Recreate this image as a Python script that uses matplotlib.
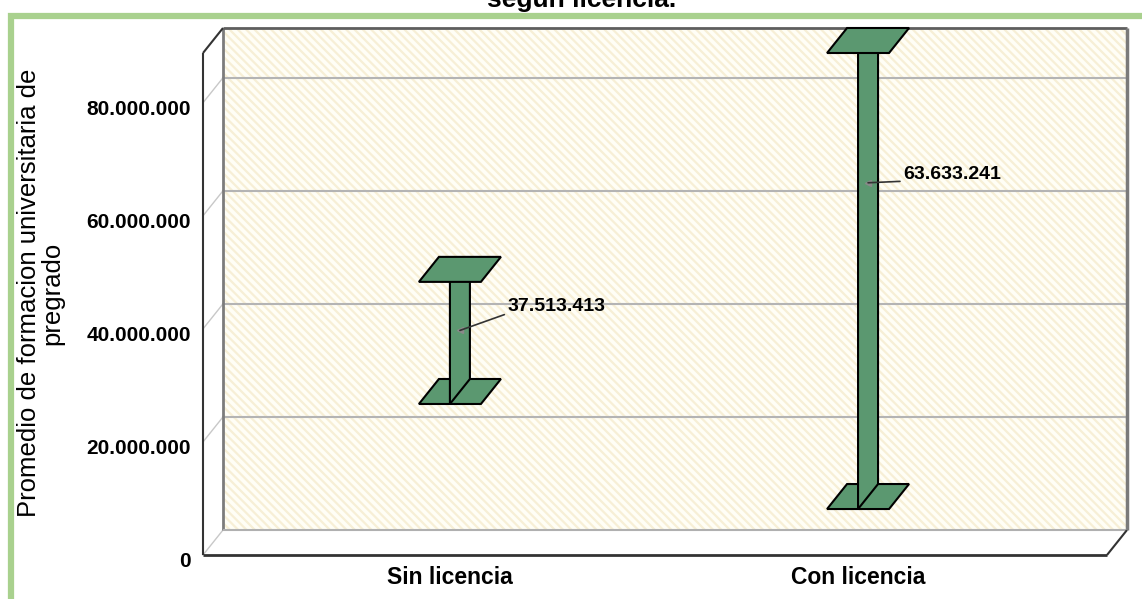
import matplotlib
matplotlib.use('Agg')
import matplotlib.pyplot as plt
from matplotlib.patches import Polygon, Rectangle

plt.rcParams['font.family'] = ['Liberation Sans', 'DejaVu Sans']
plt.rcParams['hatch.linewidth'] = 1.6

# data
categories = ['Sin licencia', 'Con licencia']
means = [37513413, 63633241]
ci_half = [10.8e6, 55.5e6]          # half width of the error bar
y_ticks = [0, 20e6, 40e6, 60e6, 80e6]
y_max = 88.8e6

title = 'según licencia.'
y_title = 'Promedio de formacion universitaria de\npregrado'

# where each mean label sits relative to its point (points)
label_offsets = [(34, 17), (25, 6)]


def fmt(v):
    return f"{v:,.0f}".replace(',', '.')


W, H = 1142, 599
fig = plt.figure(figsize=(W / 100, H / 100), dpi=100)

# front plane of the box in pixels
left, right, bottom, top = 203, 1107, 555, 53
ax = fig.add_axes([left / W, 1 - bottom / H, (right - left) / W, (bottom - top) / H])
x_lo, x_hi = -0.605, 1.61
ax.set_xlim(x_lo, x_hi)
ax.set_ylim(0, y_max)
ax.axis('off')

# depth of the box: 20 px right, 25 px up
DX = 20 / (right - left) * (x_hi - x_lo)
DY = 25 / (bottom - top) * y_max
CAP = 31 / (right - left) * (x_hi - x_lo)
green = '#5b9870'

# back wall with light diagonal stripes
ax.add_patch(Rectangle((x_lo + DX, DY), x_hi - x_lo, y_max, facecolor='#fffef6',
                       edgecolor='#f7efd6', hatch='\\\\\\\\', lw=0, zorder=0, clip_on=False))

# grid lines on the back wall and the left wall
for v in y_ticks:
    if v > 0:
        ax.plot([x_lo + DX, x_hi + DX], [v + DY, v + DY], color='#b4b4b4', lw=1.5,
                zorder=1, clip_on=False)
    ax.plot([x_lo, x_lo + DX], [v, v + DY], color='#c8c8c8', lw=1.0, zorder=1, clip_on=False)


def edge(xs, ys, color, lw):
    ax.plot(xs, ys, color=color, lw=lw, zorder=2, clip_on=False, solid_capstyle='butt')


edge([x_lo + DX, x_lo + DX], [DY, y_max + DY], '#7c7c7c', 2)
edge([x_lo + DX, x_hi + DX], [y_max + DY, y_max + DY], '#5e5e5e', 2)
edge([x_hi + DX, x_hi + DX], [y_max + DY, DY], '#7a7a7a', 2.5)
edge([x_lo + DX, x_hi + DX], [DY, DY], '#b0b0b0', 1.5)
edge([x_lo, x_lo], [0, y_max], '#333333', 1.5)
edge([x_lo, x_lo + DX], [y_max, y_max + DY], '#333333', 1.5)
edge([x_lo, x_hi], [0, 0], '#333333', 2)
edge([x_hi, x_hi + DX], [0, DY], '#333333', 1.5)

# y tick labels on the front axis
for v in y_ticks:
    ax.annotate(fmt(v), xy=(x_lo, v), xytext=(-8.6, -8.6), textcoords='offset points',
                ha='right', va='baseline', fontsize=15, weight='bold', annotation_clip=False)


def cap(x, v):
    return [(x - CAP, v), (x + CAP, v), (x + CAP + DX, v + DY), (x - CAP + DX, v + DY)]


# error bars drawn as 3D plates with caps
for i, (m, h) in enumerate(zip(means, ci_half)):
    lo = max(m - h, 0)
    hi = min(m + h, y_max)
    ax.add_patch(Polygon(cap(i, lo), fc=green, ec='black', lw=1.5, zorder=3, clip_on=False))
    ax.add_patch(Polygon([(i, lo), (i + DX, lo + DY), (i + DX, hi + DY), (i, hi)],
                         fc=green, ec='black', lw=1.5, zorder=4, clip_on=False))
    ax.add_patch(Polygon(cap(i, hi), fc=green, ec='black', lw=1.5, zorder=5, clip_on=False))

    px, py = i + DX / 2, m + DY / 2
    ax.plot(px, py, marker='<', color='#8a8a8a', ms=5, zorder=6, clip_on=False)
    ax.annotate(fmt(m), xy=(px, py), xytext=label_offsets[i], textcoords='offset points',
                ha='left', va='center', fontsize=14, weight='bold', zorder=7,
                arrowprops=dict(arrowstyle='-', color='#333333', lw=1.2, shrinkA=0, shrinkB=0,
                                relpos=(0, 0.1)))

    ax.annotate(categories[i], xy=(i, 0), xytext=(0, -16.5), textcoords='offset points',
                ha='center', va='center', fontsize=16.5, weight='bold', annotation_clip=False)

# axis title and cut-off chart title
fig.text(41 / W, 1 - 293 / H, y_title, rotation=90, ha='center', va='center',
         fontsize=18.5, linespacing=0.95, multialignment='center')
fig.text(582 / W, 1 - 7 / H, title, ha='center', va='baseline', fontsize=19, weight='bold')

# green frame around the chart
fig.patches.append(Rectangle((10.5 / W, -0.1), 1.2, (H - 16) / H + 0.1, transform=fig.transFigure,
                             fill=False, ec='#a9d18e', lw=4.5, zorder=0))

fig.savefig('out.png', dpi=100)
plt.close(fig)
